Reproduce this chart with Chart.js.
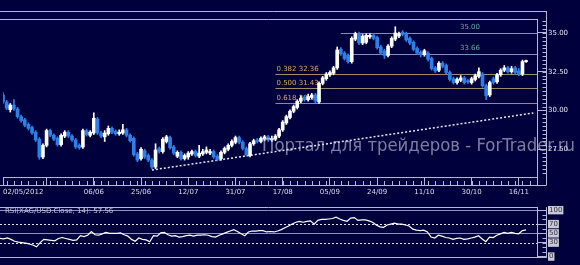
<!DOCTYPE html>
<html>
<head>
<meta charset="utf-8">
<script src="https://cdn.jsdelivr.net/npm/chart.js@4.4.1/dist/chart.umd.min.js"></script>
<style>
  html, body { margin: 0; padding: 0; background: #00003c; }
  #wrap { position: relative; width: 580px; height: 265px; overflow: hidden; background: #00003c; }
  #priceChart { position: absolute; left: 0; top: 0; }
  #rsiChart { position: absolute; left: 0; top: 200px; }
</style>
</head>
<body>
<div id="wrap">
  <canvas id="priceChart" width="580" height="200"></canvas>
  <canvas id="rsiChart" width="580" height="65"></canvas>
</div>
<script>
// XAG/USD daily, 02/05/2012 .. 20/11/2012
const opens = [
  31.00, 30.55, 30.05, 30.35, 30.10, 29.60, 29.40, 29.10, 28.90, 28.60,
  28.15, 27.00, 27.75, 28.70, 28.40, 28.20, 27.80, 28.35, 28.60, 28.35,
  28.10, 27.75, 27.65, 28.70, 28.40, 28.55, 29.45, 28.55, 28.30, 28.50,
  28.85, 28.65, 28.50, 28.55, 28.75, 28.40, 28.20, 27.20, 26.90, 27.40,
  27.10, 26.80, 26.35, 27.55, 27.35, 28.00, 28.25, 27.65, 27.05, 27.30,
  26.90, 27.00, 27.20, 27.35, 27.05, 27.20, 27.30, 27.25, 27.35, 27.05,
  26.90, 27.30, 27.50, 27.75, 27.95, 28.25, 27.95, 27.55, 27.10, 27.85,
  28.10, 28.00, 28.15, 28.30, 28.10, 28.15, 28.35, 28.75, 29.20, 29.55,
  29.95, 30.20, 30.60, 30.85, 30.70, 30.85, 31.00, 30.55, 31.75, 32.05,
  32.30, 32.40, 32.75, 33.95, 33.70, 33.55, 33.15, 34.60, 34.95, 34.35,
  34.40, 34.75, 34.85, 34.70, 34.10, 33.85, 33.55, 34.15, 34.60, 34.80,
  35.05, 34.95, 34.65, 34.40, 34.00, 33.75, 33.60, 33.70, 33.35, 32.75,
  32.60, 33.05, 32.90, 32.45, 32.05, 31.80, 31.95, 32.10, 31.90, 31.80,
  32.00, 32.20, 32.35, 31.60, 31.00, 32.05, 31.85, 32.30, 32.60, 32.75,
  32.50, 32.75, 32.55, 32.35, 33.15
];
const highs = [
  31.15, 30.65, 30.45, 30.70, 30.20, 29.70, 29.50, 29.20, 29.00, 28.70,
  28.25, 27.85, 28.80, 28.80, 28.50, 28.30, 28.50, 28.70, 28.70, 28.45,
  28.20, 27.85, 28.80, 28.80, 28.70, 29.85, 29.55, 28.65, 28.70, 29.00,
  28.95, 28.75, 28.75, 29.10, 28.85, 28.50, 28.30, 27.30, 27.60, 27.50,
  27.20, 26.90, 27.85, 27.65, 28.25, 28.40, 28.35, 27.75, 27.40, 27.40,
  27.20, 27.35, 27.45, 27.45, 27.75, 27.50, 27.65, 27.50, 27.45, 27.15,
  27.40, 27.65, 27.85, 28.10, 28.35, 28.35, 28.05, 27.65, 27.95, 28.15,
  28.20, 28.30, 28.40, 28.40, 28.35, 28.45, 28.85, 29.35, 29.70, 30.05,
  30.35, 30.70, 30.95, 30.95, 31.05, 31.10, 31.10, 31.85, 32.20, 32.45,
  32.55, 32.85, 34.10, 34.05, 33.80, 33.65, 34.75, 35.05, 35.05, 34.90,
  34.95, 34.95, 34.95, 34.80, 34.20, 33.95, 34.25, 34.75, 35.40, 35.05,
  35.15, 35.05, 34.75, 34.50, 34.10, 33.85, 33.95, 33.80, 33.45, 32.85,
  33.15, 33.15, 33.00, 32.55, 32.15, 32.10, 32.25, 32.20, 32.00, 32.15,
  32.35, 32.75, 32.45, 31.70, 31.90, 32.15, 32.40, 32.70, 32.90, 32.85,
  32.85, 32.85, 32.70, 33.25, 33.25
];
const lows = [
  30.45, 30.05, 29.90, 30.00, 29.50, 29.25, 28.95, 28.75, 28.45, 28.00,
  26.85, 26.90, 27.65, 28.30, 28.05, 27.70, 27.70, 28.25, 28.25, 28.00,
  27.55, 27.50, 27.55, 28.35, 28.30, 28.45, 28.45, 28.25, 28.00, 28.40,
  28.50, 28.40, 28.40, 28.45, 28.30, 27.95, 27.05, 26.70, 26.80, 26.90,
  26.70, 26.25, 26.25, 27.25, 27.25, 27.90, 27.50, 27.15, 26.95, 26.80,
  26.80, 26.85, 27.10, 27.00, 26.95, 27.10, 27.20, 27.15, 26.90, 26.75,
  26.80, 27.20, 27.40, 27.65, 27.85, 27.85, 27.45, 27.05, 27.00, 27.75,
  27.90, 27.90, 28.05, 28.00, 28.00, 28.05, 28.25, 28.65, 29.10, 29.45,
  29.85, 30.10, 30.50, 30.60, 30.60, 30.75, 30.50, 30.45, 31.65, 31.95,
  32.20, 32.30, 32.65, 33.55, 33.25, 33.05, 33.05, 34.50, 34.25, 34.25,
  34.30, 34.65, 34.55, 33.95, 33.60, 33.35, 33.45, 34.05, 34.50, 34.70,
  34.80, 34.45, 34.25, 33.85, 33.60, 33.45, 33.50, 33.20, 32.60, 32.45,
  32.50, 32.75, 32.35, 31.90, 31.70, 31.70, 31.85, 31.70, 31.75, 31.70,
  31.90, 32.10, 31.50, 30.70, 30.90, 31.70, 31.75, 32.20, 32.50, 32.40,
  32.40, 32.35, 32.25, 32.25, 33.10
];
const closes = [
  30.55, 30.15, 30.35, 30.10, 29.60, 29.35, 29.05, 28.85, 28.55, 28.10,
  27.00, 27.75, 28.70, 28.40, 28.15, 27.80, 28.40, 28.60, 28.35, 28.10,
  27.65, 27.60, 28.70, 28.45, 28.60, 29.50, 28.55, 28.35, 28.55, 28.85,
  28.60, 28.50, 28.60, 28.75, 28.40, 28.05, 27.15, 26.80, 27.50, 27.00,
  26.80, 26.35, 27.45, 27.35, 28.15, 28.30, 27.60, 27.25, 27.30, 26.90,
  27.10, 27.25, 27.35, 27.10, 27.25, 27.35, 27.45, 27.35, 27.00, 26.85,
  27.30, 27.55, 27.75, 28.00, 28.25, 27.95, 27.55, 27.15, 27.85, 28.05,
  28.00, 28.20, 28.30, 28.10, 28.20, 28.35, 28.75, 29.25, 29.60, 29.95,
  30.25, 30.60, 30.80, 30.70, 30.90, 31.00, 30.60, 31.75, 32.10, 32.35,
  32.45, 32.75, 33.90, 33.65, 33.35, 33.15, 34.65, 34.95, 34.35, 34.80,
  34.85, 34.85, 34.65, 34.05, 33.70, 33.55, 34.15, 34.65, 35.00, 34.95,
  34.90, 34.55, 34.35, 33.95, 33.70, 33.60, 33.85, 33.30, 32.70, 32.55,
  33.05, 32.85, 32.45, 32.00, 31.80, 32.00, 32.10, 31.80, 31.85, 32.05,
  32.25, 32.50, 31.60, 30.95, 31.80, 31.80, 32.30, 32.60, 32.75, 32.50,
  32.70, 32.45, 32.35, 33.15, 33.22
];
// RSI(14) on close
const rsi = [
  39, 38, 40, 37, 33, 31, 30, 29, 27, 25,
  21, 30, 37, 36, 35, 34, 39, 41, 39, 37,
  35, 36, 45, 43, 46, 54, 47, 46, 49, 52,
  50, 50, 50, 51, 47, 44, 37, 33, 40, 37,
  36, 32, 45, 44, 51, 52, 47, 44, 45, 42,
  43, 45, 46, 44, 46, 46, 47, 46, 43, 42,
  46, 49, 52, 55, 58, 54, 49, 45, 53, 55,
  55, 56, 56, 53, 54, 53, 55, 58, 62, 66,
  70, 74, 76, 74, 76, 77, 70, 78, 80, 80,
  81, 82, 85, 81, 78, 76, 83, 84, 78, 79,
  79, 77, 74, 68, 64, 63, 68, 70, 72, 70,
  70, 68, 66, 59, 57, 56, 57, 53, 42, 40,
  46, 44, 41, 40, 37, 39, 40, 37, 38, 40,
  42, 45, 38, 32, 42, 41, 46, 49, 52, 50,
  52, 50, 49, 56, 57.56
];

const priceTicks = [27.5, 30, 32.5, 35];
const rsiTicks = [0, 30, 50, 70, 100];
const rsiLevels = [100, 70, 50, 30, 0];
const fibRatios = ['0.382', '0.500', '0.618'];
const fibValues = [32.36, 31.43, 30.50];
const resValues = [35.00, 33.66];
const trendIdx = [41, 146];
const trendVals = [26.16, 29.84];
const tickDates = ['02/05', '18/05', '06/06', '25/06', '12/07', '31/07', '17/08', '05/09', '24/09', '11/10', '30/10', '16/11'];

// trading days (weekdays), three empty slots after the last candle
const dates = [];
for (let d = new Date(2012, 4, 2); dates.length < 148; d.setDate(d.getDate() + 1)) {
  const wd = d.getDay();
  if (wd === 0 || wd === 6) continue;
  dates.push(String(d.getDate()).padStart(2, '0') + '/' + String(d.getMonth() + 1).padStart(2, '0'));
}

const BG = '#00003c';
const FRAME = '#b4b8d8';
const UP = '#ffffff';
const DOWN = '#2f7fe8';
const FONT = 'DejaVu Sans';

const candleColor = opens.map((o, i) => closes[i] >= o ? UP : DOWN);

// frame + minor ticks, shared by both panels
function frame(ctx, a, withTop, withBottom) {
  ctx.save();
  ctx.strokeStyle = FRAME;
  ctx.lineWidth = 1;
  ctx.beginPath();
  ctx.moveTo(0, Math.round(a.top) + 0.5);
  ctx.lineTo(a.right, Math.round(a.top) + 0.5);
  const outR = Math.round(a.right) + 9.5;
  if (withTop) {
    ctx.moveTo(0, a.top - 7.5);
    ctx.lineTo(outR, a.top - 7.5);
    ctx.moveTo(outR, a.top - 8);
  } else {
    ctx.moveTo(outR, a.top);
  }
  ctx.lineTo(outR, a.bottom + (withBottom ? 8 : 0));
  if (withBottom) {
    ctx.moveTo(0, Math.round(a.bottom) + 8.5);
    ctx.lineTo(outR, Math.round(a.bottom) + 8.5);
  } else {
    ctx.moveTo(0, Math.round(a.bottom) - 0.5);
    ctx.lineTo(outR, Math.round(a.bottom) - 0.5);
  }
  ctx.stroke();
  ctx.restore();
}

const priceDecor = {
  id: 'priceDecor',
  beforeDatasetsDraw(chart) {
    const { ctx, chartArea: a, scales: { x, y } } = chart;
    ctx.save();
    ctx.font = '7px "' + FONT + '"';
    ctx.textBaseline = 'bottom';
    // resistance lines
    const resFrom = [93, 96];
    resValues.forEach((v, k) => {
      const py = Math.round(y.getPixelForValue(v)) + 0.5;
      ctx.strokeStyle = '#7f8fc0';
      ctx.beginPath();
      ctx.moveTo(x.getPixelForValue(resFrom[k]), py);
      ctx.lineTo(a.right, py);
      ctx.stroke();
      ctx.fillStyle = '#6aa89c';
      ctx.textAlign = 'left';
      ctx.fillText(v.toFixed(2), x.getPixelForValue(125.8), py - 3);
    });
    // fibonacci retracement
    const fibFrom = x.getPixelForValue(75);
    fibValues.forEach((v, k) => {
      const py = Math.round(y.getPixelForValue(v)) + 0.5;
      ctx.strokeStyle = '#a08a72';
      ctx.beginPath();
      ctx.moveTo(fibFrom, py);
      ctx.lineTo(a.right, py);
      ctx.stroke();
      ctx.fillStyle = '#d6a95a';
      ctx.textAlign = 'left';
      ctx.fillText(fibRatios[k] + ' ' + v.toFixed(2), fibFrom + 1, py - 2);
    });
    ctx.restore();
  },
  afterDraw(chart) {
    const { ctx, chartArea: a, scales: { x, y } } = chart;
    frame(ctx, a, true, true);
    ctx.save();
    ctx.strokeStyle = FRAME;
    ctx.beginPath();
    const outR = Math.round(a.right) + 9.5;
    for (let v = 26; v < 35.9; v += 0.25) {
      const py = Math.round(y.getPixelForValue(v)) + 0.5;
      ctx.moveTo(outR - 4, py);
      ctx.lineTo(outR, py);
    }
    for (let i = 1; i < dates.length; i += 2) {
      const px = Math.round(x.getPixelForValue(i)) + 0.5;
      ctx.moveTo(px, a.bottom + 4);
      ctx.lineTo(px, a.bottom + 8);
    }
    ctx.stroke();
    // watermark
    const text = 'Портал для трейдеров - ForTrader.ru';
    ctx.font = '18px "' + FONT + '"';
    const w = ctx.measureText(text).width;
    ctx.translate(262, 151);
    ctx.scale(313 / w, 1);
    ctx.fillStyle = 'rgba(200, 200, 222, 0.62)';
    ctx.textAlign = 'left';
    ctx.textBaseline = 'alphabetic';
    ctx.fillText(text, 0, 0);
    ctx.restore();
  }
};

new Chart(document.getElementById('priceChart'), {
  type: 'bar',
  data: {
    labels: dates,
    datasets: [
      {
        type: 'line',
        data: dates.map((d, i) => i === trendIdx[0] ? trendVals[0] : (i === trendIdx[1] ? trendVals[1] : null)),
        spanGaps: true,
        borderColor: '#e8e8f4',
        borderWidth: 1.5,
        borderDash: [2, 2],
        pointRadius: 0,
        order: 3
      },
      {
        data: lows.map((l, i) => [l, highs[i]]),
        backgroundColor: candleColor,
        barThickness: 1,
        grouped: false,
        order: 2
      },
      {
        data: opens.map((o, i) => [o, closes[i]]),
        backgroundColor: candleColor,
        barThickness: 3,
        minBarLength: 1,
        grouped: false,
        order: 1
      }
    ]
  },
  options: {
    responsive: false,
    animation: false,
    events: [],
    layout: { padding: { top: 19, left: 0, right: 0, bottom: 0 } },
    plugins: { legend: { display: false }, tooltip: { enabled: false } },
    scales: {
      x: {
        offset: false,
        afterFit(s) { s.height = 23; },
        afterBuildTicks(s) {
          s.ticks = tickDates.map(d => ({ value: dates.indexOf(d) })).concat([{ value: dates.length - 1 }]);
        },
        ticks: {
          autoSkip: false,
          maxRotation: 0,
          align: 'inner',
          padding: 3,
          color: '#dcdcec',
          font: { family: FONT, size: 7 },
          callback(v) {
            if (v === 0) return dates[0] + '/2012';
            if (v === dates.indexOf('18/05') || v === dates.length - 1) return '';
            return dates[v];
          }
        },
        grid: { offset: false, drawOnChartArea: false, tickLength: 8, tickColor: FRAME },
        border: { color: FRAME }
      },
      y: {
        position: 'right',
        min: 25.71,
        max: 35.9,
        afterFit(s) { s.width = 43; },
        afterBuildTicks(s) { s.ticks = priceTicks.map(v => ({ value: v })); },
        ticks: {
          color: '#e4e4f0',
          padding: 2,
          font: { family: FONT, size: 7 },
          callback: v => v.toFixed(2)
        },
        grid: { drawOnChartArea: false, tickLength: 9, tickColor: FRAME },
        border: { color: FRAME }
      }
    }
  },
  plugins: [priceDecor]
});

const rsiDecor = {
  id: 'rsiDecor',
  beforeDatasetsDraw(chart) {
    const { ctx, chartArea: a, scales: { y } } = chart;
    ctx.save();
    rsiLevels.forEach(v => {
      const py = Math.round(y.getPixelForValue(v)) + 0.5;
      const dotted = v === 70 || v === 30;
      ctx.strokeStyle = dotted ? '#e0e0f0' : '#8c94c4';
      ctx.setLineDash(dotted ? [2, 2] : []);
      ctx.beginPath();
      ctx.moveTo(0, py);
      ctx.lineTo(a.right, py);
      ctx.stroke();
    });
    ctx.restore();
  },
  afterDraw(chart) {
    const { ctx, chartArea: a, scales: { y } } = chart;
    frame(ctx, a, false, false);
    ctx.save();
    ctx.strokeStyle = FRAME;
    ctx.beginPath();
    const outR = Math.round(a.right) + 9.5;
    for (let v = 10; v < 100; v += 10) {
      const py = Math.round(y.getPixelForValue(v)) + 0.5;
      ctx.moveTo(outR - 4, py);
      ctx.lineTo(outR, py);
    }
    ctx.stroke();
    ctx.font = '7px "' + FONT + '"';
    ctx.fillStyle = '#c4c4d8';
    ctx.textBaseline = 'middle';
    ctx.fillText('RSI(XAG/USD.Close, 14): ' + rsi[rsi.length - 1].toFixed(2), 5, a.top + 4);
    ctx.restore();
  }
};

new Chart(document.getElementById('rsiChart'), {
  type: 'line',
  data: {
    labels: dates,
    datasets: [{
      data: rsi,
      borderColor: '#ffffff',
      borderWidth: 1.2,
      pointRadius: 0,
      tension: 0
    }]
  },
  options: {
    responsive: false,
    animation: false,
    events: [],
    layout: { padding: { top: 3, left: 0, right: 0, bottom: 2 } },
    plugins: { legend: { display: false }, tooltip: { enabled: false } },
    scales: {
      x: { display: false, offset: false },
      y: {
        position: 'right',
        min: -2.7,
        max: 106.4,
        afterFit(s) { s.width = 43; },
        afterBuildTicks(s) { s.ticks = rsiTicks.map(v => ({ value: v })); },
        ticks: {
          color: '#303044',
          padding: 3,
          font: { family: FONT, size: 7 },
          showLabelBackdrop: true,
          backdropColor: '#c8c8d6',
          backdropPadding: { top: 0, bottom: 0, left: 1, right: 1 }
        },
        grid: { drawOnChartArea: false, tickLength: 9, tickColor: FRAME },
        border: { color: FRAME }
      }
    }
  },
  plugins: [rsiDecor]
});
</script>
</body>
</html>
